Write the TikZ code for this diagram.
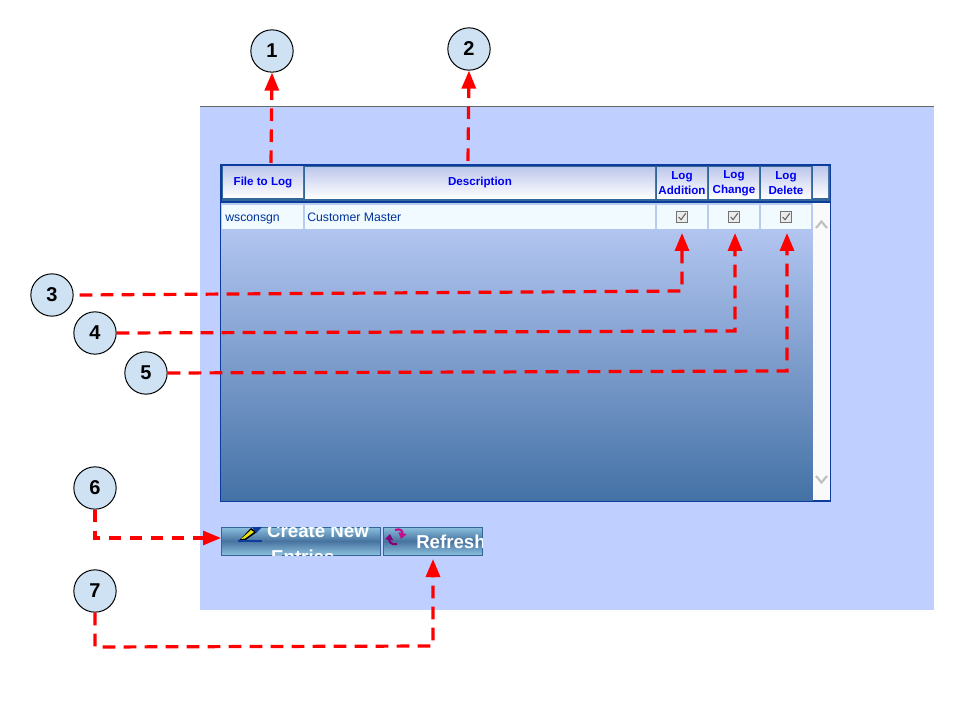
\documentclass[tikz,border=0pt]{standalone}
\usepackage{fontspec}
\setmainfont{Liberation Sans}
\usetikzlibrary{arrows.meta}
\definecolor{panelblue}{HTML}{BFCFFF}
\definecolor{tableblue}{HTML}{0B3C9E}
\definecolor{sepblue}{HTML}{336699}
\definecolor{rowblue}{HTML}{F0FAFF}
\definecolor{rowsep}{HTML}{B8CCF0}
\definecolor{bodytop}{HTML}{B2C5F0}
\definecolor{bodybottom}{HTML}{4472A6}
\definecolor{headtop}{HTML}{BEC8EC}
\definecolor{headtext}{HTML}{0000F0}
\definecolor{celltext}{HTML}{003399}
\definecolor{calloutfill}{HTML}{CFE2F3}
\definecolor{btnlight}{HTML}{8CC0DE}
\definecolor{btndark}{HTML}{47739F}
\definecolor{markred}{HTML}{FF0000}

\begin{document}
\begin{tikzpicture}[
    x=0.75pt, y=-0.75pt,
    callout/.style={circle, draw=black, line width=0.75pt, fill=calloutfill, minimum size=31.75pt,
                    inner sep=0pt, font=\fontsize{15}{15}\selectfont\bfseries},
    headcell/.style={top color=headtop, bottom color=white, minimum height=23.25pt, inner sep=0pt,
                     align=center, text=headtext, font=\fontsize{8.7}{11.2}\selectfont\bfseries},
    rowcell/.style={fill=rowblue, minimum height=18pt, inner sep=0pt, text=celltext,
                    font=\fontsize{9.2}{11}\selectfont},
    checkbox/.style={draw=black!55, line width=0.6pt, fill=white!92!black, minimum size=8.5pt, inner sep=0pt,
                     path picture={\draw[black!60, line width=0.8pt]
                       ([shift={(-2.5pt,0pt)}]path picture bounding box.center) --
                       ([shift={(-0.7pt,-2pt)}]path picture bounding box.center) --
                       ([shift={(2.8pt,2.8pt)}]path picture bounding box.center);}},
    button/.style={draw=sepblue, line width=0.75pt, minimum height=21pt, inner sep=0pt,
                   top color=btnlight, bottom color=btnlight, middle color=btndark},
    btntext/.style={text=white, align=left, inner sep=0pt, font=\fontsize{14}{19.5}\selectfont\bfseries},
    marker/.style={-{Triangle[length=13.5pt, width=10.5pt]}, draw=markred, line width=2.4pt,
                   dash pattern=on 9.5pt off 6.25pt}
  ]
    \useasboundingbox (0,0) rectangle (960,720);

    % panel and table frame
    \node[fill=panelblue, minimum width=550.5pt, minimum height=377.25pt, inner sep=0pt] (panel) at (567,358.5) {};
    \draw[black!60, line width=0.75pt] (panel.north west) -- (panel.north east);
    \node[draw=tableblue, line width=0.9pt, fill=tableblue,
          minimum width=457.5pt, minimum height=252.5pt, inner sep=0pt] (tablebox) at (525.5,333) {};
    \node[fill=rowsep, minimum width=444pt, minimum height=20.25pt, inner sep=0pt] (rowband) at (517,216.5) {};
    \node[top color=bodytop, bottom color=bodybottom, minimum width=444pt, minimum height=202.5pt,
          inner sep=0pt] (bodyfill) at (517,365) {};
    \node[fill=sepblue, minimum width=456pt, minimum height=26.25pt, inner sep=0pt] (headband) at (525.5,183.5) {};
    \node[fill=white!98!black, minimum width=12.75pt, minimum height=222.5pt, inner sep=0pt] (scrollbar) at (821.5,351.5) {};

    % header
    \node[headcell, minimum width=60pt]    (filehead)   at (263,182.5) {File to Log};
    \node[headcell, minimum width=262.5pt] (deschead)   at (480,183) {Description};
    \node[headcell, minimum width=37.5pt]  (addhead)    at (682,183) {Log\\Addition};
    \node[headcell, minimum width=37.5pt]  (changehead) at (734,183) {Log\\Change};
    \node[headcell, minimum width=37.5pt]  (deletehead) at (786,183) {Log\\Delete};
    \node[headcell, minimum width=11.25pt] (blankhead)  at (820.5,182.5) {};

    % row
    \node[rowcell, minimum width=60.75pt] (filecell)   at (262.5,217) {};
    \node[rowcell, minimum width=262.5pt] (desccell)   at (480,217) {};
    \node[rowcell, minimum width=37.5pt]  (addcell)    at (682,217) {};
    \node[rowcell, minimum width=37.5pt]  (changecell) at (734,217) {};
    \node[rowcell, minimum width=37.5pt]  (deletecell) at (786,217) {};
    \node[rowcell, anchor=base west, minimum height=0pt] (filetext) at (225,221.5) {wsconsgn};
    \node[rowcell, anchor=base west, minimum height=0pt] (desctext) at (307,221.5) {Customer Master};
    \node[checkbox] (chkadd)    at (682,217) {};
    \node[checkbox] (chkchange) at (734,217) {};
    \node[checkbox] (chkdelete) at (786,217) {};

    % scroll arrows
    \draw[black!25, line width=1.6pt] (816,228) -- (821.5,221.5) -- (827,228);
    \draw[black!25, line width=1.6pt] (816,476) -- (821.5,482.5) -- (827,476);

    % buttons
    \node[button, minimum width=119.5pt] (createbtn)  at (301,541) {};
    \node[button, minimum width=74.5pt]  (refreshbtn) at (433,541) {};
    \begin{scope}
      \clip (222,527) rectangle (380,555);
      \node[btntext] (createtext) at (318,544) {Create New\\\hspace*{3pt}Entries};
    \end{scope}
    \begin{scope}
      \clip (384,527) rectangle (482,555);
      \node[btntext, anchor=west] (refreshtext) at (416,542) {Refresh};
    \end{scope}

    % icons
    \fill[black] (239,540.5) -- (251,528) -- (257,532) -- (245,540.5) -- cycle;
    \fill[yellow!90!black] (241,539) -- (251,530) -- (254,532) -- (245,538.5) -- cycle;
    \fill[tableblue] (252,527) -- (262,527) -- (256,533) -- cycle;
    \draw[tableblue, line width=0.8pt] (238,541) -- (262,541);
    \draw[purple!70!blue, line width=1.6pt, -{Triangle[length=4.5pt, width=6pt]}]
      (397,544) .. controls (391,545.5) and (389,541) .. (390,534);
    \draw[magenta!80!blue, line width=1.6pt, -{Triangle[length=4.5pt, width=6pt]}]
      (395,530) .. controls (400,528) and (403,531) .. (401,539);

    % callouts
    \node[callout] (c1) at (272,51)  {1};
    \node[callout] (c2) at (469,49)  {2};
    \node[callout] (c3) at (52,295)  {3};
    \node[callout] (c4) at (95,333)  {4};
    \node[callout] (c5) at (146,373) {5};
    \node[callout] (c6) at (95,488)  {6};
    \node[callout] (c7) at (95,591)  {7};

    \coordinate (bend3) at (682,291);
    \coordinate (bend4) at (735,331);
    \coordinate (bend5) at (787,371);
    \coordinate (tip3)  at (682,233);
    \coordinate (tip4)  at (735,233);
    \coordinate (tip5)  at (787,233);
    \coordinate (bend6) at (95,538);
    \coordinate (tip6)  at (221,538);
    \coordinate (bend7a) at (95,647);
    \coordinate (bend7b) at (433,646);
    \coordinate (tip7)  at (433,559);
    \coordinate (from1) at (271,163);
    \coordinate (from2) at (468,161);

    \draw[marker] (from1) -- (c1.south);
    \draw[marker] (from2) -- (c2.south);
    \draw[marker] (c3.east) ++(6,0) -- (bend3) -- (tip3);
    \draw[marker] (c4.east) -- (bend4) -- (tip4);
    \draw[marker] (c5.east) -- (bend5) -- (tip5);
    \draw[marker] (c6.south) -- (bend6) -- (tip6);
    \draw[marker] (c7.south) -- (bend7a) -- (bend7b) -- (tip7);
  \end{tikzpicture}
\end{document}
